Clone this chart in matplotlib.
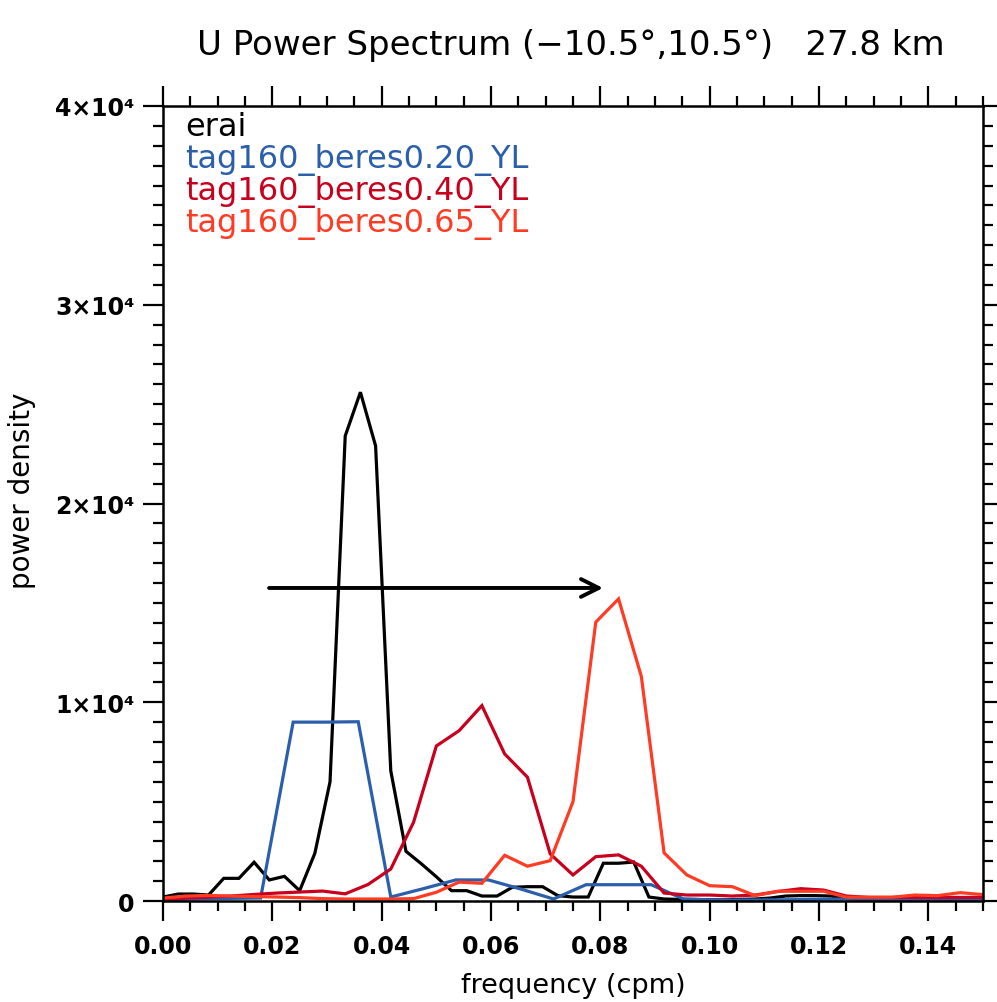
import numpy as np
import matplotlib
matplotlib.use("Agg")
import matplotlib.pyplot as plt
from matplotlib.ticker import MultipleLocator, FixedLocator

# ---- data ----
names = ["erai", "tag160_beres0.20_YL", "tag160_beres0.40_YL", "tag160_beres0.65_YL"]
colors = ["#000000", "#2b5fab", "#c8001e", "#ff3b24"]

freq_erai = np.arange(55) / 360.0
power_erai = [200, 350, 350, 300, 1140, 1140, 1950, 1060, 1240, 520,
              2400, 6000, 23400, 25600, 22900, 6550, 2500, 1880, 1220, 520,
              520, 250, 250, 690, 720, 720, 270, 200, 200, 1900,
              1900, 1960, 200, 100, 80, 80, 60, 60, 80, 100,
              150, 250, 270, 270, 250, 120, 80, 60, 50, 50,
              60, 80, 70, 60, 50]

freq_b020 = np.arange(27) / 168.0
power_b020 = [50, 100, 130, 150, 9000, 9000, 9020, 200, 620, 1060,
              1060, 600, 100, 820, 820, 820, 100, 50, 50, 60,
              80, 100, 80, 60, 50, 50, 50]

freq_b040 = np.arange(37) / 240.0
power_b040 = [100, 150, 200, 250, 330, 400, 450, 500, 360, 830,
              1610, 3960, 7800, 8570, 9830, 7400, 6230, 2370, 1310, 2230,
              2320, 1750, 400, 300, 300, 250, 300, 480, 620, 550,
              250, 180, 180, 180, 180, 180, 180]

freq_b065 = np.arange(37) / 240.0
power_b065 = [150, 250, 280, 250, 220, 200, 170, 120, 100, 100,
              100, 120, 440, 950, 890, 2300, 1750, 2030, 5000, 14030,
              15200, 11300, 2420, 1310, 770, 720, 270, 490, 490, 490,
              190, 190, 190, 300, 270, 420, 320]

x_ticks = [0.00, 0.02, 0.04, 0.06, 0.08, 0.10, 0.12, 0.14]
y_ticks = [0, 10000, 20000, 30000, 40000]
y_ticklabels = ["0", "1×10⁴", "2×10⁴", "3×10⁴", "4×10⁴"]

arrow_start = (0.0194, 15750)
arrow_end = (0.0805, 15750)

title = "U Power Spectrum (−10.5°,10.5°)   27.8 km"
xlabel = "frequency (cpm)"
ylabel = "power density"

# ---- figure ----
W, H = 997, 1003
fig = plt.figure(figsize=(W / 100, H / 100), dpi=100)
L, R, T, B = 163, 983, 107, 902
ax = fig.add_axes([L / W, 1 - B / H, (R - L) / W, (B - T) / H])

series = [(freq_erai, power_erai), (freq_b020, power_b020),
          (freq_b040, power_b040), (freq_b065, power_b065)]
for (f, p), c in zip(series, colors):
    ax.plot(f, p, color=c, lw=2.3, solid_joinstyle="miter")

ax.set_xlim(0, 0.15)
ax.set_ylim(0, 40000)

ax.xaxis.set_major_locator(FixedLocator(x_ticks))
ax.xaxis.set_minor_locator(MultipleLocator(0.005))
ax.set_xticklabels([f"{v:.2f}" for v in x_ticks])
ax.yaxis.set_major_locator(FixedLocator(y_ticks))
ax.yaxis.set_minor_locator(MultipleLocator(1000))
ax.set_yticklabels(y_ticklabels)

ax.tick_params(which="both", direction="out", top=True, right=True,
               width=1.6, color="black")
ax.tick_params(which="major", length=14.5)
ax.tick_params(which="minor", length=7.5)
ax.tick_params(axis="x", which="major", pad=9, labelsize=17)
ax.tick_params(axis="y", which="major", pad=6, labelsize=17)
for lab in ax.get_xticklabels() + ax.get_yticklabels():
    lab.set_fontweight("bold")
for s in ax.spines.values():
    s.set_linewidth(1.8)

ax.annotate("", xy=arrow_end, xytext=arrow_start,
            arrowprops=dict(arrowstyle="->", lw=2.8, color="black",
                            mutation_scale=32, shrinkA=0, shrinkB=0))

# legend as coloured text
leg_y = [128, 160, 192, 224]
for n, c, yy in zip(names, colors, leg_y):
    fig.text(185 / W, 1 - yy / H, n, color=c, fontsize=23, ha="left", va="center")

fig.text(571 / W, 1 - 45 / H, title, fontsize=24.5, ha="center", va="center")
fig.text(573 / W, 1 - 986 / H, xlabel, fontsize=19.5, ha="center", va="center")
fig.text(22 / W, 1 - 491 / H, ylabel, fontsize=20, ha="center", va="center", rotation=90)

fig.savefig("out.png", dpi=100)
